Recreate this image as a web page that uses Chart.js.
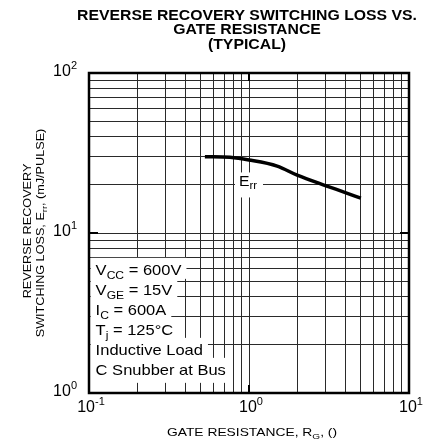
<!DOCTYPE html>
<html>
<head>
<meta charset="utf-8">
<script src="https://cdn.jsdelivr.net/npm/chart.js@4"></script>
<style>
  html, body { margin: 0; padding: 0; background: #fff; }
  #wrap { width: 430px; height: 445px; }
</style>
</head>
<body>
<div id="wrap"><canvas id="lossChart" width="430" height="445"></canvas></div>
<script>
// data
const rgValues = [0.53, 0.76, 1.0, 1.5, 2.0, 3.0, 4.0, 5.0];
const errValues = [30, 29.7, 28.6, 26.2, 23.0, 19.8, 17.9, 16.5];

const xDecades = [0.1, 1, 10];
const yDecades = [1, 10, 100];
const xDecadeLabels = ['-1', '0', '1'];
const yDecadeLabels = ['0', '1', '2'];

const titleLines = ['REVERSE RECOVERY SWITCHING LOSS VS.', 'GATE RESISTANCE', '(TYPICAL)'];
// [main, subscript, rest]
const conditions = [
  ['V', 'CC', ' = 600V'],
  ['V', 'GE', ' = 15V'],
  ['I', 'C', ' = 600A'],
  ['T', 'j', ' = 125°C'],
  ['Inductive Load'],
  ['C Snubber at Bus']
];

const FONT = '"Liberation Sans", Arial, Helvetica, sans-serif';

function gridTicks(decades) {
  const out = [];
  for (let i = 0; i < decades.length - 1; i++) {
    for (let k = 1; k < 10; k++) out.push({ value: decades[i] * k });
  }
  out.push({ value: decades[decades.length - 1] });
  return out;
}

// segments: array of strings, odd index = subscript
function richWidth(ctx, segs, size, weight) {
  let w = 0;
  segs.forEach((s, i) => {
    const sz = i % 2 ? Math.round(size * 0.72) : size;
    ctx.font = weight + ' ' + sz + 'px ' + FONT;
    w += ctx.measureText(s).width;
  });
  return w;
}

function drawRich(ctx, segs, x, y, size, weight, sx, align) {
  const w = richWidth(ctx, segs, size, weight);
  ctx.save();
  ctx.translate(x, y);
  ctx.scale(sx, 1);
  let left = 0;
  if (align === 'center') left = -w / 2;
  if (align === 'right') left = -w;
  ctx.textAlign = 'left';
  ctx.textBaseline = 'middle';
  segs.forEach((s, i) => {
    const sub = i % 2 === 1;
    const sz = sub ? Math.round(size * 0.72) : size;
    ctx.font = weight + ' ' + sz + 'px ' + FONT;
    ctx.fillText(s, left, sub ? size * 0.32 : 0);
    left += ctx.measureText(s).width;
  });
  ctx.restore();
  return w * sx;
}

function powerLabel(ctx, exp, x, y, align) {
  ctx.font = '16px ' + FONT;
  const w1 = ctx.measureText('10').width;
  ctx.font = '11px ' + FONT;
  const w2 = ctx.measureText(exp).width;
  let left = x;
  if (align === 'right') left = x - w1 - w2;
  if (align === 'center') left = x - (w1 + w2) / 2;
  ctx.textAlign = 'left';
  ctx.textBaseline = 'middle';
  ctx.font = '16px ' + FONT;
  ctx.fillText('10', left, y);
  ctx.font = '11px ' + FONT;
  ctx.fillText(exp, left + w1, y - 6);
}

const decorPlugin = {
  id: 'decor',
  afterDatasetsDraw(chart) {
    const ctx = chart.ctx;
    const xs = chart.scales.x, ys = chart.scales.y;
    const area = chart.chartArea;
    ctx.save();

    // E_rr label with white background
    const ex = xs.getPixelForValue(0.866), ey = ys.getPixelForValue(21);
    ctx.fillStyle = '#fff';
    ctx.fillRect(ex - 4, ey - 9, 28, 25);
    ctx.fillStyle = '#000';
    drawRich(ctx, ['E', 'rr'], ex, ey, 15, 'normal', 1.05, 'left');

    // test conditions block
    const cx = xs.getPixelForValue(0.11);
    const cy0 = ys.getPixelForValue(5.8);
    const step = 20;
    const sx = 1.1;
    conditions.forEach((parts, i) => {
      const w = richWidth(ctx, parts, 15, 'normal') * sx;
      const cy = cy0 + i * step;
      ctx.fillStyle = '#fff';
      ctx.fillRect(cx - 5, cy - 13, w + 10, i === conditions.length - 1 ? 25 : step + 1);
    });
    ctx.fillStyle = '#000';
    conditions.forEach((parts, i) => {
      drawRich(ctx, parts, cx, cy0 + i * step, 15, 'normal', sx, 'left');
    });

    // heavy ticks at decades
    ctx.lineWidth = 2;
    ctx.strokeStyle = '#000';
    const y10 = ys.getPixelForValue(10);
    const x1 = xs.getPixelForValue(1);
    ctx.beginPath();
    ctx.moveTo(area.left, y10); ctx.lineTo(area.left + 9, y10);
    ctx.moveTo(area.right, y10); ctx.lineTo(area.right - 9, y10);
    ctx.moveTo(x1, area.top); ctx.lineTo(x1, area.top + 8);
    ctx.moveTo(x1, area.bottom); ctx.lineTo(x1, area.bottom - 8);
    ctx.stroke();

    // frame
    ctx.lineWidth = 2.5;
    ctx.strokeRect(area.left, area.top, area.right - area.left, area.bottom - area.top);
    ctx.restore();
  },
  afterDraw(chart) {
    const ctx = chart.ctx;
    const xs = chart.scales.x, ys = chart.scales.y;
    const area = chart.chartArea;
    ctx.save();
    ctx.fillStyle = '#000';

    // title, stretched to the width of the original lettering
    const tw = richWidth(ctx, [titleLines[0]], 14, 'bold');
    const tsx = 340 / tw;
    titleLines.forEach((t, i) => drawRich(ctx, [t], 247, 16 + i * 14.5, 14, 'bold', tsx, 'center'));

    // decade tick labels
    yDecades.forEach((v, i) => powerLabel(ctx, yDecadeLabels[i], area.left - 12, ys.getPixelForValue(v) - 1, 'right'));
    xDecades.forEach((v, i) => powerLabel(ctx, xDecadeLabels[i], xs.getPixelForValue(v) + 2, area.bottom + 15, 'center'));

    // x axis title
    const xSegs = ['GATE RESISTANCE, R', 'G', ', ()'];
    const xw = richWidth(ctx, xSegs, 11, 'normal');
    drawRich(ctx, xSegs, 252, 433, 11, 'normal', 170 / xw, 'center');

    // y axis title (rotated)
    ctx.save();
    ctx.translate(0, (area.top + area.bottom) / 2);
    ctx.rotate(-Math.PI / 2);
    const y1Segs = ['REVERSE RECOVERY'];
    const y2Segs = ['SWITCHING LOSS, E', 'rr', ', (mJ/PULSE)'];
    const ysx = 1.15;
    drawRich(ctx, y1Segs, 2, 28, 11, 'normal', ysx, 'center');
    drawRich(ctx, y2Segs, 0, 41, 11, 'normal', ysx, 'center');
    ctx.restore();

    ctx.restore();
  }
};

const ctx = document.getElementById('lossChart').getContext('2d');
new Chart(ctx, {
  type: 'line',
  data: {
    datasets: [{
      label: 'Err',
      data: rgValues.map((x, i) => ({ x: x, y: errValues[i] })),
      borderColor: '#000',
      borderWidth: 3.5,
      pointRadius: 0,
      cubicInterpolationMode: 'monotone',
      fill: false
    }]
  },
  options: {
    responsive: false,
    animation: false,
    layout: { padding: { left: 89, right: 21, top: 73, bottom: 52 } },
    plugins: { legend: { display: false }, tooltip: { enabled: false }, title: { display: false } },
    scales: {
      x: {
        type: 'logarithmic',
        min: 0.1, max: 10,
        afterBuildTicks: (s) => { s.ticks = gridTicks(xDecades); },
        ticks: { display: false },
        grid: { color: '#2a2a2a', lineWidth: 1, drawTicks: false },
        border: { display: false }
      },
      y: {
        type: 'logarithmic',
        min: 1, max: 100,
        afterBuildTicks: (s) => { s.ticks = gridTicks(yDecades); },
        ticks: { display: false },
        grid: { color: '#2a2a2a', lineWidth: 1, drawTicks: false },
        border: { display: false }
      }
    }
  },
  plugins: [decorPlugin]
});
</script>
</body>
</html>
